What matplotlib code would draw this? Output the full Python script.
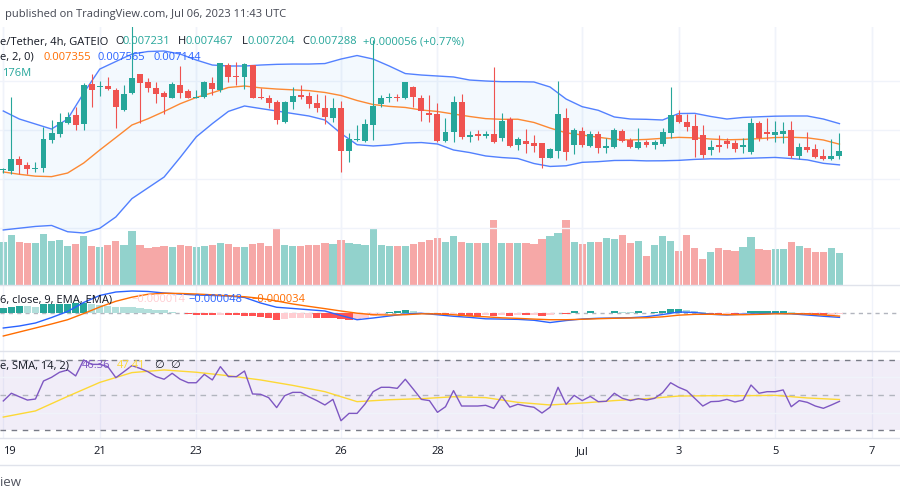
import numpy as np
import matplotlib.pyplot as plt
from matplotlib.lines import Line2D
from matplotlib.transforms import blended_transform_factory

# 4h candles, Jun 19 00:00 -> Jul 6 08:00 UTC. Prices in millionths of USDT.
opens = [7087, 7082, 7201, 7143, 7099, 7115, 7398, 7456, 7568, 7653,
         7558, 7966, 7939, 7949, 7908, 7704, 7874, 8068, 7987, 7931,
         7874, 7829, 7959, 7901, 7829, 7837, 7982, 7908, 8163, 8056,
         8044, 8163, 7840, 7829, 7783, 7585, 7783, 7857, 7850, 7772,
         7727, 7625, 7727, 7286, 7395, 7388, 7551, 7762, 7829, 7840,
         7823, 7942, 7829, 7676, 7660, 7388, 7477, 7789, 7432, 7459,
         7436, 7456, 7421, 7609, 7347, 7391, 7370, 7364, 7217, 7289,
         7625, 7347, 7493, 7340, 7459, 7319, 7330, 7493, 7398, 7319,
         7375, 7347, 7354, 7466, 7653, 7585, 7541, 7449, 7296, 7347,
         7388, 7364, 7330, 7279, 7568, 7477, 7449, 7456, 7500, 7238,
         7324, 7306, 7235, 7201, 7231]
highs = [7117, 7837, 7235, 7174, 7174, 7534, 7602, 7670, 7681, 7738,
         7976, 8068, 8000, 8044, 7928, 7959, 8600, 8075, 8027, 7987,
         7901, 7987, 8153, 7915, 7908, 8000, 8044, 8186, 8186, 8194,
         8186, 8168, 7931, 7857, 7806, 7796, 7936, 7959, 7891, 7867,
         7857, 7829, 7796, 7466, 7551, 7609, 8418, 7857, 7874, 7864,
         7993, 7952, 7857, 7857, 7772, 7619, 7847, 7864, 7490, 7500,
         7490, 8140, 7670, 7636, 7432, 7510, 7449, 7370, 7319, 7999,
         7721, 7523, 7534, 7490, 7490, 7415, 7523, 7510, 7415, 7517,
         7398, 7398, 7523, 7936, 7704, 7660, 7660, 7551, 7398, 7449,
         7415, 7398, 7415, 7619, 7592, 7625, 7592, 7585, 7592, 7364,
         7483, 7354, 7306, 7405, 7467]
lows = [7061, 7051, 7051, 7051, 7075, 7075, 7364, 7432, 7558, 7500,
        7500, 7738, 7850, 7908, 7517, 7694, 7864, 7568, 7891, 7772,
        7660, 7823, 7823, 7823, 7823, 7829, 7857, 7891, 7993, 7959,
        7915, 7823, 7818, 7721, 7558, 7575, 7711, 7816, 7721, 7687,
        7558, 7585, 7069, 7177, 7388, 7381, 7398, 7738, 7789, 7796,
        7816, 7738, 7592, 7585, 7381, 7375, 7381, 7408, 7381, 7398,
        7415, 7370, 7388, 7330, 7296, 7262, 7279, 7115, 7211, 7211,
        7194, 7252, 7330, 7330, 7262, 7268, 7319, 7375, 7313, 7306,
        7330, 7306, 7340, 7415, 7568, 7490, 7228, 7211, 7245, 7279,
        7313, 7273, 7262, 7252, 7388, 7398, 7375, 7364, 7211, 7204,
        7279, 7211, 7194, 7194, 7204]
closes = [7092, 7204, 7143, 7099, 7115, 7405, 7472, 7579, 7636, 7551,
          7959, 7908, 7949, 7918, 7732, 7867, 8033, 7976, 7931, 7867,
          7840, 7969, 7880, 7829, 7840, 7987, 7915, 8180, 8044, 8044,
          8171, 7829, 7823, 7772, 7602, 7783, 7847, 7840, 7765, 7721,
          7636, 7727, 7286, 7405, 7405, 7558, 7745, 7829, 7840, 7823,
          7987, 7840, 7694, 7653, 7388, 7483, 7789, 7432, 7449, 7439,
          7459, 7375, 7592, 7340, 7405, 7357, 7340, 7211, 7303, 7663,
          7279, 7500, 7347, 7456, 7319, 7340, 7500, 7388, 7330, 7375,
          7347, 7375, 7477, 7653, 7585, 7534, 7398, 7245, 7324, 7330,
          7357, 7306, 7347, 7568, 7421, 7456, 7477, 7493, 7238, 7324,
          7296, 7228, 7201, 7235, 7288]
# volume, millions
volumes = [237, 275, 235, 231, 231, 281, 242, 248, 215, 227,
           270, 215, 209, 220, 242, 220, 297, 220, 205, 209,
           213, 209, 220, 215, 209, 215, 220, 231, 227, 209,
           209, 226, 231, 215, 312, 220, 215, 215, 220, 220,
           231, 226, 248, 231, 226, 220, 312, 220, 215, 215,
           215, 226, 237, 248, 259, 237, 270, 237, 231, 231,
           231, 358, 231, 231, 231, 231, 226, 253, 270, 286,
           358, 237, 226, 237, 237, 259, 253, 275, 231, 242,
           160, 220, 270, 242, 187, 275, 204, 143, 182, 204,
           193, 187, 209, 264, 198, 193, 198, 198, 237, 215,
           204, 182, 182, 204, 176]

# Bollinger bands, read every second candle (millionths)
band_idx = list(range(0, 105, 2))
bb_upper = [7694, 7612, 7561, 7510, 7612, 7877, 8122, 8199, 8275, 8301,
            8306, 8275, 8214, 8163, 8153, 8153, 8163, 8170, 8173, 8173,
            8178, 8224, 8260, 8224, 8153, 8076, 8061, 8051, 8041, 8010,
            8000, 7993, 7993, 7990, 7939, 7816, 7738, 7701, 7633, 7612,
            7609, 7602, 7668, 7670, 7638, 7612, 7628, 7635, 7641, 7643,
            7643, 7612, 7565]
bb_basis = [7072, 7048, 7029, 7024, 7061, 7163, 7296, 7423, 7551, 7615,
            7689, 7768, 7832, 7880, 7934, 7949, 7930, 7918, 7910, 7902,
            7883, 7852, 7801, 7760, 7741, 7730, 7704, 7689, 7663, 7638,
            7616, 7609, 7610, 7577, 7520, 7471, 7449, 7426, 7405, 7398,
            7404, 7415, 7425, 7420, 7408, 7400, 7404, 7412, 7423, 7426,
            7420, 7398, 7355]
bb_lower = [6480, 6498, 6516, 6526, 6462, 6449, 6497, 6613, 6800, 6910,
            7020, 7220, 7430, 7565, 7690, 7745, 7719, 7694, 7668, 7643,
            7602, 7465, 7350, 7337, 7347, 7367, 7372, 7357, 7296, 7270,
            7235, 7219, 7209, 7158, 7128, 7135, 7170, 7177, 7189, 7190,
            7185, 7186, 7190, 7200, 7206, 7205, 7210, 7215, 7220, 7209,
            7195, 7160, 7144]

# MACD (12, 26, 9), millionths
macd_line = [-165, -143, -110, -50, 17, 116, 193, 231, 242, 237,
             220, 209, 198, 193, 187, 171, 110, 63, 50, 36,
             22, -28, -74, -55, -33, -11, -3, -19, -36, -48,
             -64, -67, -70, -80, -105, -83, -66, -58, -55, -52,
             -41, -17, 11, 6, -14, -22, -13, -9, -4, -9,
             -22, -36, -48]
macd_signal = [-253, -209, -165, -121, -74, -6, 66, 129, 174, 206,
               217, 215, 209, 200, 189, 179, 161, 132, 99, 73,
               48, 22, -2, -19, -22, -19, -9, -10, -19, -33,
               -42, -53, -59, -67, -74, -74, -69, -63, -58, -55,
               -52, -42, -24, -15, -14, -18, -19, -15, -9, -8,
               -11, -22, -34]
macd_hist = [58, 66, 74, 72, 70, 96, 100, 102, 104, 105,
             107, 96, 85, 77, 68, 66, 64, 55, 44, 36,
             30, 14, 3, -16, -19, -25, -26, -22, -25, -26,
             -30, -36, -44, -55, -74, -66, -55, -52, -51, -55,
             -58, -60, -69, -77, -66, -55, -33, -11, 8, 22,
             33, 22, 3, -16, -25, -26, -25, -36, -37, -38,
             -25, -36, -25, -36, -25, -27, -25, -36, -25, 3,
             -11, 19, 3, 19, 3, 2, 19, 11, 10, 19,
             3, 11, 19, 40, 41, 33, 25, 8, -11, -12,
             -8, -11, -8, 18, 19, 20, 21, 22, 8, -11,
             -14, -25, -26, -22, -14]

# RSI 14 and its SMA
rsi = [46.6, 51.0, 49.0, 47.1, 47.7, 58.0, 60.1, 63.0, 64.3, 60.9,
       70.0, 67.5, 67.5, 66.2, 59.9, 63.3, 66.8, 65.2, 63.3, 60.5,
       59.0, 62.4, 59.0, 57.0, 57.0, 61.8, 58.6, 66.2, 60.5, 60.5,
       63.7, 50.6, 50.4, 48.5, 42.8, 49.6, 51.5, 51.5, 49.0, 46.8,
       44.3, 47.5, 35.3, 39.5, 39.5, 44.9, 51.9, 54.4, 54.4, 53.8,
       59.0, 53.3, 47.5, 46.8, 40.1, 43.3, 52.5, 43.7, 43.7, 43.7,
       44.1, 42.4, 49.4, 43.1, 44.7, 43.7, 43.0, 39.7, 43.0, 54.4,
       44.7, 49.8, 46.8, 49.2, 46.2, 46.4, 51.0, 48.1, 46.8, 47.9,
       47.1, 48.1, 51.3, 57.0, 54.4, 52.5, 48.1, 43.7, 46.2, 46.4,
       47.5, 46.0, 47.1, 55.7, 51.0, 51.9, 51.9, 52.9, 43.3, 46.8,
       45.8, 43.7, 42.4, 44.3, 46.36]
rsi_ma_idx = list(range(0, 105, 4))
rsi_ma = [37.4, 40.9, 49.2, 57.2, 62.8, 64.3, 63.0, 61.0, 58.6, 55.5,
          51.9, 46.2, 47.3, 47.9, 49.0, 48.5, 45.8, 44.3, 45.4, 46.8,
          47.9, 49.4, 49.6, 49.6, 49.8, 48.3, 47.41]

day_ticks = [0, 12, 24, 42, 54, 72, 84, 96, 108]
day_labels = ['19', '21', '23', '26', '28', 'Jul', '3', '5', '7']

UP, DOWN = '#26a69a', '#ef5350'
GRID = '#f0f3fa'
FONT = ['Open Sans', 'DejaVu Sans']
W, H = 900, 500
XMIN, XMAX = -3.3 / 8.04, 896.7 / 8.04

fig = plt.figure(figsize=(9, 5), dpi=100)
fig.patch.set_facecolor('white')


def pane(top, bottom):
    a = fig.add_axes([0, 1 - bottom / H, 1, (bottom - top) / H])
    a.set_xlim(XMIN, XMAX)
    a.set_axis_off()
    for t in day_ticks:
        a.axvline(t, color=GRID, lw=1, zorder=0)
    return a


def put(x, y, s, color, size=8):
    fig.text(x / W, 1 - y / H, s, color=color, fontsize=size,
             ha='left', va='center', family=FONT)


o = np.array(opens) / 1e6
h = np.array(highs) / 1e6
l = np.array(lows) / 1e6
c = np.array(closes) / 1e6
idx = np.arange(len(c))
up = c >= o

# volume underneath the price pane
axv = pane(27, 285)
axv.bar(idx, volumes, width=0.9, color=np.where(up, UP, DOWN), alpha=0.5, lw=0)
axv.set_ylim(0, 258 * 5.5)

ax = pane(27, 285)
ax.patch.set_visible(False)
ax.set_ylim(0.0059184, 0.0085510)
for p in [0.0065, 0.0070, 0.0075, 0.0080]:
    ax.axhline(p, color=GRID, lw=1, zorder=0)
ub = np.array(bb_upper) / 1e6
bb = np.array(bb_basis) / 1e6
lb = np.array(bb_lower) / 1e6
ax.fill_between(band_idx, lb, ub, color='#2196f3', alpha=0.05, lw=0, zorder=1)
ax.plot(band_idx, ub, color='#2962ff', lw=1, alpha=0.8, zorder=2)
ax.plot(band_idx, lb, color='#2962ff', lw=1, alpha=0.8, zorder=2)
ax.plot(band_idx, bb, color='#ff6d00', lw=1, alpha=0.8, zorder=2)
cols = np.where(up, UP, DOWN)
ax.vlines(idx, l, h, colors=cols, lw=0.8, zorder=3)
ax.bar(idx, np.maximum(np.abs(c - o), 1e-5), bottom=np.minimum(o, c),
       width=0.74, color=cols, lw=0, zorder=4)

# MACD pane
axm = pane(285, 351)
axm.set_ylim(-4.18e-4, 3.08e-4)
hist = np.array(macd_hist) / 1e6
prev = np.r_[hist[0], hist[:-1]]
hcol = np.where(hist >= 0, np.where(hist >= prev, '#26a69a', '#b2dfdb'),
                np.where(hist < prev, '#ff5252', '#ffcdd2'))
axm.bar(idx, hist, width=0.9, color=hcol, lw=0, zorder=2)
axm.axhline(0, color='#b2b5be', lw=1, ls=(0, (3, 3)), zorder=1)
axm.plot(band_idx, np.array(macd_line) / 1e6, color='#2962ff', lw=1, zorder=3)
axm.plot(band_idx, np.array(macd_signal) / 1e6, color='#ff6d00', lw=1, zorder=3)

# RSI pane
axr = pane(351, 438)
axr.set_ylim(25.43, 75.14)
axr.axhspan(30, 70, color='#7e57c2', alpha=0.1, lw=0, zorder=0)
for lvl in (40, 60):
    axr.axhline(lvl, color=GRID, lw=1, zorder=0)
axr.axhline(70, color='#787b86', lw=1, ls=(0, (4, 4)), zorder=1)
axr.axhline(30, color='#787b86', lw=1, ls=(0, (4, 4)), zorder=1)
axr.axhline(50, color='#b2b5be', lw=1, ls=(0, (4, 4)), zorder=1)
axr.plot(idx, rsi, color='#7e57c2', lw=1, zorder=3)
axr.plot(rsi_ma_idx, rsi_ma, color='#fdd835', lw=1, zorder=2)

# time axis labels (the first one sits at the left edge)
tr = blended_transform_factory(axr.transData, fig.transFigure)
for t, s in zip(day_ticks, day_labels):
    axr.text(max(t, XMIN), 1 - 452 / H, s, transform=tr,
             ha='left' if t == 0 else 'center', va='center',
             fontsize=8, color='#131722', family=FONT, clip_on=False)

# pane separators
for y in (285, 351, 438, 465):
    fig.add_artist(Line2D([0, 1], [1 - y / H] * 2, transform=fig.transFigure,
                          color='#e0e3eb', lw=1))

# header and legends
DARK = '#131722'
put(5, 15, 'published on TradingView.com, Jul 06, 2023 11:43 UTC', '#434651', 8)
put(0, 42, 'e/Tether, 4h, GATEIO', DARK)
for lx, lab, vx, val in [(115, 'O', 122, '0.007231'), (178, 'H', 186, '0.007467'),
                         (242, 'L', 248, '0.007204'), (302, 'C', 309, '0.007288')]:
    put(lx, 42, lab, DARK)
    put(vx, 42, val, UP)
put(363, 42, '+0.000056 (+0.77%)', UP)
put(0, 57, 'e, 2, 0)', DARK)
put(43, 57, '0.007355', '#ff6d00')
put(98, 57, '0.007565', '#2962ff')
put(153, 57, '0.007144', '#2962ff')
put(2, 74, '176M', UP)
put(0, 300, '6, close, 9, EMA, EMA)', DARK)
put(131, 300, '\u22120.000014', '#ffcdd2')
put(188, 300, '\u22120.000048', '#2962ff')
put(251, 300, '\u22120.000034', '#ff6d00')
put(0, 366, 'e, SMA, 14, 2)', DARK)
put(82, 366, '46.36', '#7e57c2')
put(117, 366, '47.41', '#fdd835')
put(154, 366, '\u2205', DARK)
put(170, 366, '\u2205', DARK)
put(0, 483, 'iew', '#50535e', 9.5)

fig.savefig('out.png', dpi=100)
